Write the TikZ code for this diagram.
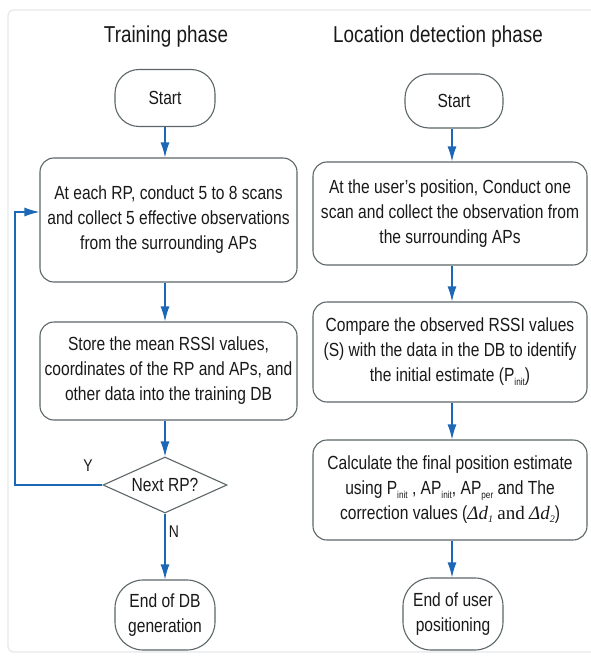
\documentclass[tikz,border=0pt]{standalone}
\usepackage{fontspec}
\setmainfont{Liberation Sans}[FakeStretch=0.82]
\newfontfamily\mathserif{Liberation Serif}
\usetikzlibrary{shapes.geometric,arrows.meta}
\definecolor{edgegray}{RGB}{92,102,104}
\definecolor{flowblue}{RGB}{28,104,182}
\definecolor{inkgray}{RGB}{25,25,25}
\definecolor{framegray}{RGB}{230,232,234}
% small lowered text used for index-like subscripts
\newcommand\lowtxt[1]{\raisebox{-0.35ex}{\fontsize{10}{10}\selectfont #1}}
\newcommand\deltad[1]{{\mathserif\itshape Δd\raisebox{-0.3ex}{\fontsize{10}{10}\selectfont #1}}}
\begin{document}
\begin{tikzpicture}[x=1pt,y=-1pt,
  every node/.style={text=inkgray, font=\fontsize{19}{25}\selectfont},
  proc/.style={draw=edgegray, line width=1.1pt, rounded corners=14pt, align=center, inner sep=0pt},
  term/.style={draw=edgegray, line width=1.1pt, align=center, inner sep=0pt},
  decide/.style={draw=edgegray, line width=1.1pt, diamond, aspect=2.2, inner sep=0pt,
                 minimum width=124pt, minimum height=56pt},
  flow/.style={draw=flowblue, line width=1.3pt, -{Latex[length=15pt,width=9pt]}},
  heading/.style={font=\fontsize{23}{26}\selectfont},
  tag/.style={font=\fontsize{17}{18}\selectfont}]
\useasboundingbox (0,0) rectangle (590,663);
\fill[white] (0,0) rectangle (590,663);
\draw[framegray, line width=1.2pt, rounded corners=6pt] (8,10) rectangle (600,652);

% headings
\node[heading] (titleL) at (166,37) {Training phase};
\node[heading] (titleR) at (438,37) {Location detection phase};

% training phase
\node[term, rounded corners=24pt, minimum width=100pt, minimum height=57pt] (startL) at (165,98) {Start};
\node[proc, minimum width=257pt, minimum height=124pt] (b1L) at (168.5,220)
  {At each RP, conduct 5 to 8 scans\\and collect 5 effective observations\\from the surrounding APs};
\node[proc, minimum width=257pt, minimum height=98pt] (b2L) at (168.5,371)
  {Store the mean RSSI values,\\coordinates of the RP and APs, and\\other data into the training DB};
\node[decide] (decL) at (165,485) {Next RP?};
\node[term, rounded corners=28pt, minimum width=100pt, minimum height=70pt] (endL) at (165,615)
  {End of DB\\generation};

\draw[flow] (startL.south) -- (startL.south |- b1L.north);
\draw[flow] (b1L.south -| startL.south) -- (startL.south |- b2L.north);
\draw[flow] (b2L.south -| decL.north) -- (decL.north);
\draw[flow] (decL.south) -- (endL.north);

\coordinate (loopA) at (15,485);
\coordinate (loopB) at (15,212);
\draw[flow] (decL.west) -- (loopA) -- (loopB) -- (loopB -| b1L.west);
\node[tag] (yLab) at (88,466) {Y};
\node[tag] (nLab) at (174,532) {N};

% location detection phase
\coordinate (axisR) at (452,0);
\node[term, rounded corners=24pt, minimum width=98pt, minimum height=54pt] (startR) at (454,101) {Start};
\node[proc, minimum width=274pt, minimum height=103pt] (b1R) at (450,213.5)
  {At the user's position, Conduct one\\scan and collect the observation from\\the surrounding APs};
\node[proc, minimum width=274pt, minimum height=100pt] (b2R) at (450,352)
  {Compare the observed RSSI values\\(S) with the data in the DB to identify\\the initial estimate (P\lowtxt{init})};
\node[proc, minimum width=274pt, minimum height=100pt] (b3R) at (450,490)
  {Calculate the final position estimate\\using P\lowtxt{init} , AP\lowtxt{init}, AP\lowtxt{per} and The\\correction values (\deltad{1} {\mathserif and} \deltad{2})};
\node[term, rounded corners=28pt, minimum width=100pt, minimum height=72pt] (endR) at (453,614)
  {End of user\\positioning};

\draw[flow] (startR.south -| axisR) -- (axisR |- b1R.north);
\draw[flow] (b1R.south -| axisR) -- (axisR |- b2R.north);
\draw[flow] (b2R.south -| axisR) -- (axisR |- b3R.north);
\draw[flow] (b3R.south -| axisR) -- (axisR |- endR.north);
\end{tikzpicture}
\end{document}
